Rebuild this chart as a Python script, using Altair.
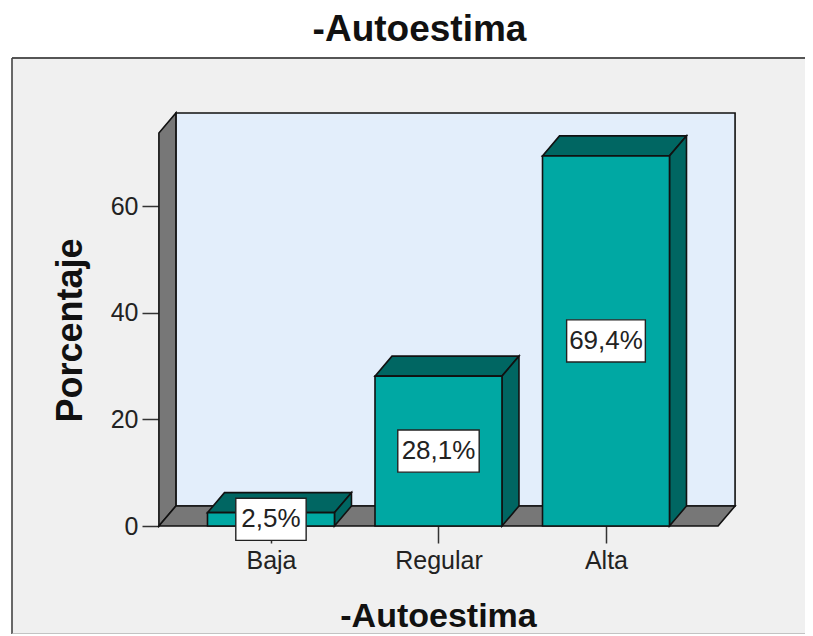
import altair as alt
import pandas as pd

categories = ["Baja", "Regular", "Alta"]
values = [2.5, 28.1, 69.4]
labels = ["2,5%", "28,1%", "69,4%"]
y_ticks = [0, 20, 40, 60]
centers = [1, 2, 3]

HW = 0.379      # half bar width, category units
DX = 0.1015     # depth in category units
DY = 3.75       # depth in percent units
X0, X1 = 0.331, 3.669
YTOP = 73.7
LBL_HW = {"2,5%": 0.21, "28,1%": 0.243, "69,4%": 0.235}
LBL_HH = 3.95

DARK = "#006662"
FRONT = "#00a8a3"
WALL = "#777777"
BACK = "#e3eefb"
EDGE = "#111111"
FONT = "Liberation Sans"

W, H = 793, 576
xs = alt.Scale(domain=[-0.546, 4.188], nice=False, zero=False)
ys = alt.Scale(domain=[-20.25, 87.75], nice=False, zero=False)

label_expr = "datum.value == 1 ? 'Baja' : datum.value == 2 ? 'Regular' : 'Alta'"
x_axis = alt.Axis(
    values=centers, labelExpr=label_expr, offset=-(H - 468), grid=False, domain=False,
    tickSize=17, tickWidth=1.5, tickColor="#333333", labelPadding=5,
    labelFont=FONT, labelFontSize=25, labelColor="#222222",
    title="-Autoestima", titleFont=FONT, titleFontSize=34, titleFontWeight="bold",
    titleColor="#111111", titleX=426, titleY=90, titleBaseline="middle", titleAlign="center")
y_axis = alt.Axis(
    values=y_ticks, offset=-147, grid=False, domain=False,
    tickSize=17, tickWidth=1.5, tickColor="#333333", labelPadding=4,
    labelFont=FONT, labelFontSize=25, labelColor="#222222",
    title="Porcentaje", titleFont=FONT, titleFontSize=36, titleFontWeight="bold",
    titleColor="#111111", titleX=-89, titleY=272, titleAngle=270,
    titleBaseline="middle", titleAlign="center")

X = lambda f: alt.X(f, scale=xs, axis=x_axis)
Y = lambda f: alt.Y(f, scale=ys, axis=y_axis)

faces = []
def face(name, fill, pts):
    for x, y, y2 in pts:
        faces.append({"face": name, "fill": fill, "x": x, "y": y, "y2": y2})

face("left", WALL, [(X0, 0, YTOP), (X0 + DX, DY, YTOP + DY)])
face("floor", WALL, [(X0, 0, 0), (X0 + DX, 0, DY), (X1, 0, DY), (X1 + DX, DY, DY)])
df_walls = pd.DataFrame(faces)

faces = []
for c, v in zip(centers, values):
    a, b = c - HW, c + HW
    face(f"top{c}", DARK, [(a, v, v), (a + DX, v, v + DY), (b, v, v + DY), (b + DX, v + DY, v + DY)])
    face(f"side{c}", DARK, [(b, 0, v), (b + DX, DY, v + DY)])
df_faces = pd.DataFrame(faces)

df_bars = pd.DataFrame({
    "c": centers, "v": values, "label": labels,
    "a": [c - HW for c in centers], "b": [c + HW for c in centers],
    "mid": [v / 2 for v in values],
    "la": [c - LBL_HW[l] for c, l in zip(centers, labels)],
    "lb": [c + LBL_HW[l] for c, l in zip(centers, labels)],
    "lt": [v / 2 + LBL_HH for v in values],
    "lu": [v / 2 - LBL_HH for v in values],
})
df_back = pd.DataFrame({"x": [X0 + DX], "x2": [X1 + DX], "y": [DY], "y2": [YTOP + DY]})
one = pd.DataFrame({"k": [0]})

back = alt.Chart(df_back).mark_rect(fill=BACK, stroke=EDGE, strokeWidth=1.6).encode(
    x=X("x:Q"), x2="x2:Q", y=Y("y:Q"), y2="y2:Q")

walls = alt.Chart(df_walls).mark_area(orient="vertical", stroke=EDGE, strokeWidth=1.6, opacity=1).encode(
    x=X("x:Q"), y=Y("y:Q"), y2="y2:Q", detail="face:N",
    fill=alt.Fill("fill:N", scale=None))

bar_faces = alt.Chart(df_faces).mark_area(orient="vertical", stroke=EDGE, strokeWidth=1.6, opacity=1).encode(
    x=X("x:Q"), y=Y("y:Q"), y2="y2:Q", detail="face:N",
    fill=alt.Fill("fill:N", scale=None))

fronts = alt.Chart(df_bars).mark_rect(fill=FRONT, stroke=EDGE, strokeWidth=1.6).encode(
    x=X("a:Q"), x2="b:Q", y=Y("v:Q"), y2=alt.Y2(datum=0))

boxes = alt.Chart(df_bars).mark_rect(fill="white", stroke="#222222", strokeWidth=1.4).encode(
    x=X("la:Q"), x2="lb:Q", y=Y("lu:Q"), y2="lt:Q")

texts = alt.Chart(df_bars).mark_text(font=FONT, fontSize=26, color="#222222", baseline="middle").encode(
    x=X("c:Q"), y=Y("mid:Q"), text="label:N")

frame_top = alt.Chart(one).mark_rule(color="#555555", strokeWidth=2).encode(
    x=alt.value(0), x2=alt.value(W), y=alt.value(0))
frame_left = alt.Chart(one).mark_rule(color="#444444", strokeWidth=1.6).encode(
    x=alt.value(0), y=alt.value(0), y2=alt.value(H))
frame_bottom = alt.Chart(one).mark_rule(color="#b5b5b5", strokeWidth=1.5).encode(
    x=alt.value(0), x2=alt.value(W), y=alt.value(H))

chart = alt.layer(
    back, walls, bar_faces, fronts, boxes, texts, frame_top, frame_left, frame_bottom
).properties(
    width=W, height=H,
    padding={"left": 4, "top": 50, "right": 0, "bottom": 0},
    autosize=alt.AutoSizeParams(type="none"),
    view=alt.ViewBackground(fill="#f0f0f0", stroke=None),
    title=alt.TitleParams("-Autoestima", font=FONT, fontSize=37, fontWeight="bold",
                          color="#111111", anchor="middle", dx=11, offset=8),
).configure(background="white")

chart.save("out.html", embed_options={"renderer": "svg", "actions": False})
